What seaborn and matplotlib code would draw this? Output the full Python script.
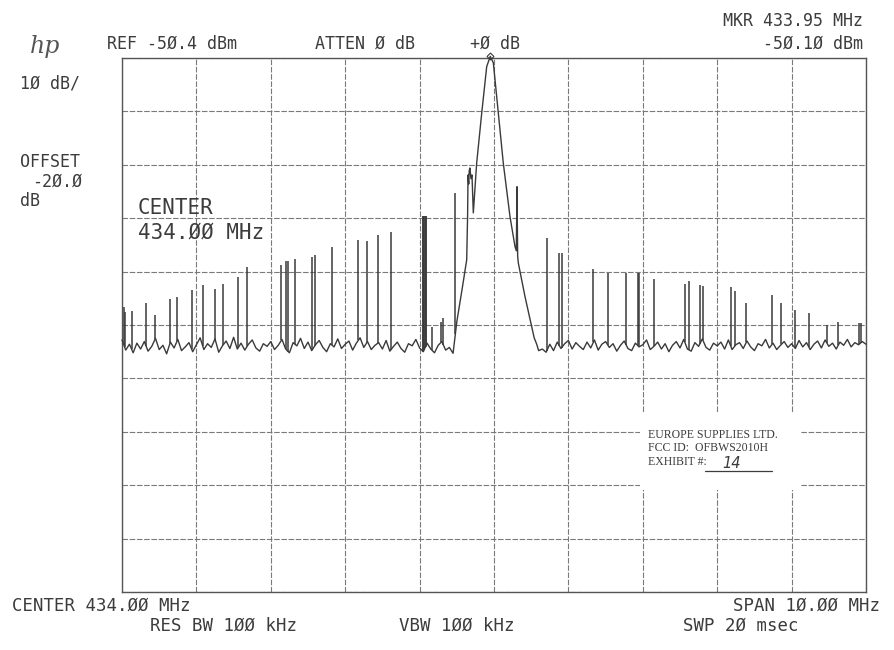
import numpy as np
import pandas as pd
import matplotlib
matplotlib.use("Agg")
import matplotlib.pyplot as plt
import seaborn as sns
from matplotlib.patches import Rectangle

# ---------------- data ----------------
F_START, F_STOP = 429.0, 439.0          # MHz (center 434, span 10)
REF_LEVEL = -50.4                       # dBm, top of screen
DB_PER_DIV = 10

# noise floor, one value per 0.05 MHz (433.50-434.55 replaced by main lobe)
floor_freq = [round(429.0 + 0.05 * i, 2) for i in range(201)]
floor_db = [
    -103.2, -105.1, -104.0, -105.6, -103.8, -104.9, -103.5, -105.3, -104.4, -102.9,
    -105.0, -104.2, -105.8, -103.6, -104.7, -103.1, -105.2, -104.5, -103.7, -105.4,
    -104.1, -102.8, -105.0, -103.9, -104.6, -103.0, -105.5, -104.3, -103.4, -104.8,
    -102.7, -104.9, -103.8, -105.1, -104.0, -103.2, -104.7, -105.3, -103.9, -104.4,
    -103.5, -105.0, -104.2, -103.1, -104.9, -105.6, -103.7, -104.3, -102.9, -104.8,
    -103.6, -105.2, -104.1, -103.3, -104.6, -105.4, -103.9, -104.5, -103.0, -104.8,
    -104.0, -103.4, -105.1, -103.8, -102.8, -104.6, -103.5, -105.0, -104.2, -103.7,
    -104.9, -103.3, -105.3, -104.4, -103.6, -104.8, -105.5, -103.9, -104.3, -103.1,
    -104.7, -105.4, -103.8, -104.9, -105.6, -104.2, -103.5, -105.1, -104.6, -105.7,
    -104.5, -104.5, -104.5, -104.5, -104.5, -104.5, -104.5, -104.5, -104.5, -104.5,
    -104.5, -104.5, -104.5, -104.5, -104.5, -104.5, -104.5, -104.5, -104.5, -104.5,
    -104.5, -104.5, -105.2, -104.9, -105.5, -104.0, -105.2, -103.6, -104.8, -103.9,
    -103.3, -104.9, -103.7, -104.4, -105.0, -103.6, -104.7, -103.2, -105.1, -104.0,
    -103.5, -104.6, -103.9, -105.3, -104.2, -103.4, -104.8, -105.2, -103.8, -104.5,
    -104.1, -103.2, -105.0, -104.4, -103.6, -104.9, -103.9, -105.4, -104.2, -103.5,
    -104.7, -103.1, -104.9, -105.3, -103.7, -104.4, -103.0, -104.6, -105.1, -103.8,
    -104.3, -103.6, -104.9, -103.2, -105.0, -104.1, -103.7, -104.8, -103.4, -104.5,
    -105.2, -103.9, -104.3, -103.1, -104.7, -103.8, -105.0, -104.2, -103.5, -104.6,
    -103.9, -104.8, -103.3, -104.5, -103.7, -105.0, -104.0, -103.4, -104.7, -103.2,
    -104.4, -103.8, -104.9, -103.6, -104.2, -103.1, -104.5, -103.7, -104.1, -103.5,
    -104.0,
]

# main carrier lobe (incl. bursts riding on its slopes)
lobe_freq = [433.49, 433.50, 433.57, 433.633, 433.645, 433.651, 433.66, 433.667,
             433.677, 433.69, 433.704, 433.722, 433.767, 433.835, 433.902, 433.95,
             433.991, 434.058, 434.125, 434.215, 434.282, 434.30, 434.309, 434.318,
             434.327, 434.417, 434.507, 434.54, 434.574]
lobe_db = [-101.0, -99.8, -93.8, -88.2, -80.0, -72.3, -74.0, -71.5,
           -71.0, -73.0, -72.3, -79.4, -70.1, -60.7, -52.0, -50.1,
           -51.3, -60.7, -70.1, -80.1, -85.7, -86.5, -74.5, -87.5,
           -88.8, -95.1, -100.7, -102.8, -104.0]

# narrow spurious bursts on the noise floor
spur_freq = [429.027, 429.035, 429.130, 429.323, 429.448, 429.645, 429.743, 429.937,
             430.085, 430.254, 430.362, 430.555, 430.684, 431.141, 431.200, 431.235,
             431.325, 431.558, 431.590, 431.819, 432.176, 432.293, 432.445, 432.616,
             433.040, 433.050, 433.060, 433.070, 433.080, 433.090, 433.167, 433.288,
             433.319, 433.480, 434.708, 434.878, 434.910, 435.335, 435.528, 435.774,
             435.931, 435.953, 436.151, 436.563, 436.621, 436.765, 436.809, 437.181,
             437.239, 437.391, 437.740, 437.862, 438.050, 438.230, 438.472, 438.628,
             438.910, 438.930]
spur_db = [-97.0, -98.0, -97.7, -96.2, -98.5, -95.5, -95.2, -93.8,
           -92.9, -93.6, -92.7, -91.5, -89.6, -89.2, -88.5, -88.5,
           -88.1, -87.7, -87.3, -85.7, -84.5, -84.6, -83.6, -83.0,
           -80.0, -80.0, -80.0, -80.0, -80.0, -80.0, -100.7, -99.8,
           -99.1, -75.7, -84.2, -86.9, -86.9, -90.0, -90.6, -90.6,
           -90.7, -90.7, -91.8, -92.7, -92.1, -93.0, -93.1, -93.3,
           -94.1, -96.2, -94.7, -96.3, -97.5, -98.2, -100.4, -99.8,
           -100.0, -100.0]

marker_freq, marker_db = 433.95, -50.10

# ---------------- build trace ----------------
ff = np.array(floor_freq)
fd = np.array(floor_db)
keep = (ff < 433.48) | (ff > 434.58)
trace = pd.DataFrame({
    "freq": np.concatenate([ff[keep], lobe_freq]),
    "level": np.concatenate([fd[keep], lobe_db]),
}).sort_values("freq").reset_index(drop=True)

# ---------------- figure ----------------
sns.set_theme(style="white")
W, H = 894, 650
fig = plt.figure(figsize=(W / 100, H / 100), dpi=100)
fig.patch.set_facecolor("white")
L, R, T_, B = 122, 866, 58, 592
ax = fig.add_axes([L / W, 1 - B / H, (R - L) / W, (B - T_) / H])

ink = "#3a3a3a"
sns.lineplot(data=trace, x="freq", y="level", ax=ax, estimator=None, sort=False,
             color=ink, linewidth=1.0, zorder=4, clip_on=False)
spur_base = np.interp(spur_freq, trace["freq"], trace["level"])
ax.vlines(spur_freq, spur_base, spur_db, color=ink, linewidth=1.1, zorder=4)
ax.plot([marker_freq], [marker_db], marker="D", markersize=3.5, mfc="none",
        mec=ink, mew=0.8, clip_on=False, zorder=5)

ax.set_xlim(F_START, F_STOP)
ax.set_ylim(REF_LEVEL - 10 * DB_PER_DIV, REF_LEVEL)
ax.set_xticks(np.linspace(F_START, F_STOP, 11))
ax.set_yticks(np.linspace(REF_LEVEL - 10 * DB_PER_DIV, REF_LEVEL, 11))
ax.tick_params(length=0, labelbottom=False, labelleft=False)
ax.set_xlabel("")
ax.set_ylabel("")
ax.set_axisbelow(True)
ax.grid(True, color="#7a7a7a", linewidth=0.8, linestyle=(0, (5, 1.5)))
for s in ax.spines.values():
    s.set_color("#555555")
    s.set_linewidth(1.0)
ax.set_facecolor("white")

# stamp box
ax.add_patch(Rectangle((435.96, -131.3), 2.15, 14.6, facecolor="white",
                       edgecolor="none", zorder=3))

# ---------------- texts ----------------
txt = "#3c3c3c"
mono = "DejaVu Sans Mono"


def T(x, y, s, size=12, ha="left", family=mono, **kw):
    fig.text(x / W, 1 - y / H, s, fontsize=size, ha=ha, va="center",
             family=family, color=txt, **kw)


fig.text(30 / W, 1 - 47 / H, "hp", fontsize=17, ha="left", va="center",
         family="DejaVu Serif", style="italic", color="#555555")
T(172, 44, "REF -5Ø.4 dBm", ha="center")
T(365, 44, "ATTEN Ø dB", ha="center")
T(495, 44, "+Ø dB", ha="center")
T(863, 21, "MKR 433.95 MHz", ha="right")
T(863, 44, "-5Ø.1Ø dBm", ha="right")
T(20, 83, "1Ø dB/")
T(20, 162, "OFFSET")
T(32, 182, "-2Ø.Ø")
T(20, 201, "dB")
T(138, 208, "CENTER", size=15)
T(138, 233, "434.ØØ MHz", size=15)
T(12, 606, "CENTER 434.ØØ MHz", size=12.5)
T(880, 606, "SPAN 1Ø.ØØ MHz", size=12.5, ha="right")
T(223, 626, "RES BW 1ØØ kHz", size=12.5, ha="center")
T(457, 626, "VBW 1ØØ kHz", size=12.5, ha="center")
T(741, 626, "SWP 2Ø msec", size=12.5, ha="center")

serif = "Liberation Serif"
T(648, 435, "EUROPE SUPPLIES LTD.", size=8.5, family=serif)
T(648, 448, "FCC ID:  OFBWS2010H", size=8.5, family=serif)
T(648, 462, "EXHIBIT #:", size=8.5, family=serif)
fig.add_artist(plt.Line2D([705 / W, 772 / W], [1 - 471 / H, 1 - 471 / H],
                          color=txt, linewidth=0.9))
T(722, 463, "14", size=10.5, family="DejaVu Sans", style="italic")

fig.savefig("out.png", dpi=100, facecolor="white")
